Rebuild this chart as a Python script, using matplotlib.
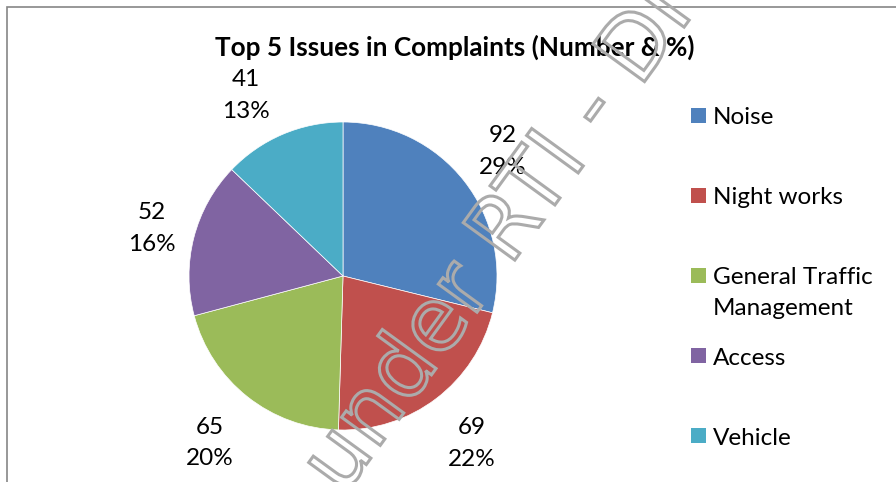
import matplotlib
matplotlib.use('Agg')
import matplotlib.pyplot as plt
from matplotlib.patches import Rectangle, PathPatch
from matplotlib.textpath import TextPath
from matplotlib.font_manager import FontProperties
from matplotlib.transforms import Affine2D

plt.rcParams['font.family'] = ['Lato', 'DejaVu Sans']

# data
issues = ['Noise', 'Night works', 'General Traffic\nManagement', 'Access', 'Vehicle']
counts = [92, 69, 65, 52, 41]
colors = ['#4F81BD', '#C0504D', '#9BBB59', '#8064A2', '#4BACC6']
title = 'Top 5 Issues in Complaints (Number & %)'
watermark = 'under RTI - DI'

# small pixel nudges for the data labels (x right, y down), like Excel's best fit
label_nudge = [(-3, 3), (4, 3), (-5, 5), (9, 4), (-16, 9)]

W, H = 896, 482
fig = plt.figure(figsize=(W / 100, H / 100), dpi=100, facecolor='white')

# chart border (runs off the right and bottom edges)
fig.patches.append(Rectangle((7 / W, -0.1), 1.2, 1.1 - 7 / H, transform=fig.transFigure,
                             fill=False, edgecolor='#868686', linewidth=1.2))

# pie: centre (343, 276) px, radius 154 px
R = 154
side = 2.5 * R
ax = fig.add_axes([(343 - side / 2) / W, (H - 276 - side / 2) / H, side / W, side / H])
total = sum(counts)
labels = [f'{c}\n{round(100 * c / total)}%' for c in counts]
wedges, texts = ax.pie(counts, colors=colors, startangle=90, counterclock=False,
                       labels=labels, labeldistance=1.34,
                       wedgeprops=dict(edgecolor='white', linewidth=0.5),
                       textprops=dict(fontsize=17.5, color='black', linespacing=1.62))
for t, (nx, ny) in zip(texts, label_nudge):
    x, y = t.get_position()
    t.set_position((x + nx / R, y - ny / R))
    t.set_ha('center')
    t.set_va('center')

fig.text(455 / W, 1 - 55.5 / H, title, ha='center', va='baseline',
         fontsize=18.8, fontweight='bold', color='black')

# legend, square aligned with the first text line
base0, step, line_step = 124, 80.2, 31
for i, (name, col) in enumerate(zip(issues, colors)):
    yb = base0 + i * step
    fig.patches.append(Rectangle((691 / W, 1 - (yb - 1.5) / H), 15 / W, 15 / H,
                                 transform=fig.transFigure, facecolor=col, edgecolor='none'))
    for j, line in enumerate(name.split('\n')):
        fig.text(713 / W, 1 - (yb + j * line_step) / H, line, ha='left', va='baseline',
                 fontsize=17.5, color='black')

# outlined watermark on top
axw = fig.add_axes([0, 0, 1, 1], zorder=10)
axw.set_xlim(0, W)
axw.set_ylim(0, H)
axw.axis('off')
tp = TextPath((0, 0), watermark, size=87.4, prop=FontProperties(family='DejaVu Sans'))
trans = Affine2D().rotate_deg(54).translate(343, H - 496.6) + axw.transData
axw.add_patch(PathPatch(tp, transform=trans, facecolor='none', edgecolor='#ababab', linewidth=2.2))

fig.savefig('out.png', dpi=100, facecolor='white')
